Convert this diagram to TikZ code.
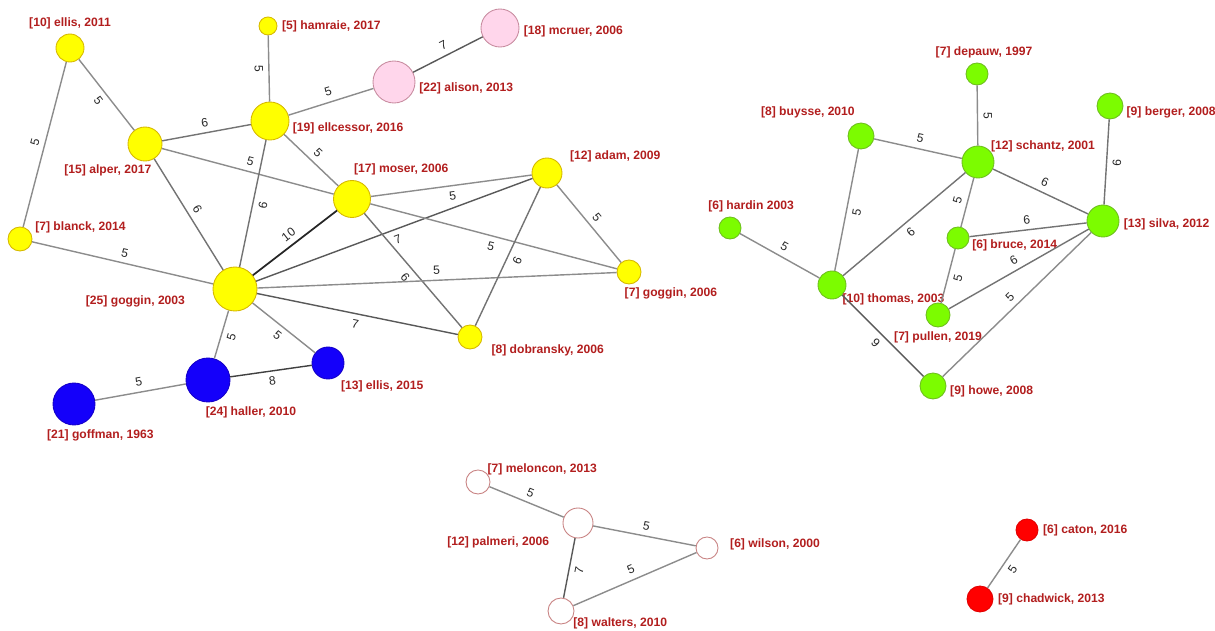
\documentclass[tikz,border=0pt]{standalone}
\usepackage{fontspec}
\setmainfont{Liberation Sans}
\definecolor{paperlabel}{RGB}{178,30,30}
\definecolor{yellowfill}{RGB}{255,255,0}
\definecolor{yellowline}{RGB}{214,184,0}
\definecolor{pinkfill}{RGB}{255,214,235}
\definecolor{pinkline}{RGB}{200,140,160}
\definecolor{bluefill}{RGB}{20,0,250}
\definecolor{blueline}{RGB}{20,0,200}
\definecolor{greenfill}{RGB}{124,252,0}
\definecolor{greenline}{RGB}{110,190,30}
\definecolor{whiteline}{RGB}{200,130,130}
\definecolor{redfill}{RGB}{255,0,0}
\definecolor{redline}{RGB}{225,0,0}
\definecolor{linkgray}{RGB}{140,140,140}

\begin{document}
\begin{tikzpicture}[
			x=0.02cm, y=-0.02cm,
			label distance=1.5pt,
			paper/.style={
				circle,
				inner sep=0pt,
				line width=0.5pt,
				minimum size=#1*0.02cm
			},
			ygroup/.style={paper=#1, draw=yellowline, fill=yellowfill},
			pgroup/.style={paper=#1, draw=pinkline, fill=pinkfill},
			bgroup/.style={paper=#1, draw=blueline, fill=bluefill},
			ggroup/.style={paper=#1, draw=greenline, fill=greenfill},
			wgroup/.style={paper=#1, draw=whiteline, fill=white},
			rgroup/.style={paper=#1, draw=redline, fill=redfill},
			lab/.style={
				text=paperlabel,
				font=\fontsize{6.9}{8}\selectfont\bfseries,
				inner sep=1pt
			},
			el/.style={
				font=\fontsize{6.9}{8}\selectfont,
				text=black!85,
				inner sep=2pt,
				sloped
			},
			every edge/.style={
				draw=linkgray,
				line width=0.8pt
			},
			w6/.style={draw=black!55},
			w7/.style={draw=black!65},
			w8/.style={draw=black!75},
			w9/.style={draw=black!65},
			w10/.style={draw=black!85, line width=1pt}
			]
			\useasboundingbox (0,0) rectangle (1215,631);
			% Yellow cluster
			\node[ygroup=28, label={[lab]90:{[10] ellis, 2011}}] (ellis11) at (70,48) {};
			\node[ygroup=18, label={[lab,anchor=west]0:{[5] hamraie, 2017}}] (hamraie17) at (268,26) {};
			\node[ygroup=38, label={[lab,anchor=west]-20:{[19] ellcessor, 2016}}] (ellcessor16) at (270,121) {};
			\node[ygroup=34, label={[lab,anchor=north east]-65:{[15] alper, 2017}}] (alper17) at (145,144) {};
			\node[ygroup=37, label={[lab,anchor=south west]90:{[17] moser, 2006}}] (moser06) at (352,199) {};
			\node[ygroup=30, label={[lab,anchor=south west,xshift=3pt]30:{[12] adam, 2009}}] (adam09) at (547,173) {};
			\node[ygroup=24, label={[lab,anchor=west,xshift=2pt]50:{[7] blanck, 2014}}] (blanck14) at (20,239) {};
			\node[ygroup=44, label={[lab,anchor=east,xshift=-13pt,yshift=-7pt]180:{[25] goggin, 2003}}] (goggin03) at (235,289) {};
			\node[ygroup=24, label={[lab,anchor=north west]-115:{[7] goggin, 2006}}] (goggin06) at (629,272) {};
			\node[ygroup=24, label={[lab,anchor=north west,xshift=3pt]-20:{[8] dobransky, 2006}}] (dobransky06) at (470,337) {};
			% Pink pair
			\node[pgroup=42, label={[lab,anchor=west]-15:{[22] alison, 2013}}] (alison13) at (394,82) {};
			\node[pgroup=38, label={[lab,anchor=west]-10:{[18] mcruer, 2006}}] (mcruer06) at (500,28) {};
			% Blue cluster
			\node[bgroup=44, label={[lab,anchor=north west]-100:{[24] haller, 2010}}] (haller10) at (208,380) {};
			\node[bgroup=32, label={[lab,anchor=north west]-55:{[13] ellis, 2015}}] (ellis15) at (328,363) {};
			\node[bgroup=42, label={[lab,anchor=north,xshift=15pt]-90:{[21] goffman, 1963}}] (goffman63) at (74,404) {};
			% Green cluster
			\node[ggroup=22, label={[lab,xshift=4pt]90:{[7] depauw, 1997}}] (depauw97) at (977,74) {};
			\node[ggroup=26, label={[lab,anchor=south east]105:{[8] buysse, 2010}}] (buysse10) at (861,136) {};
			\node[ggroup=26, label={[lab,anchor=west]-25:{[9] berger, 2008}}] (berger08) at (1110,106) {};
			\node[ggroup=32, label={[lab,anchor=west]55:{[12] schantz, 2001}}] (schantz01) at (978,162) {};
			\node[ggroup=22, label={[lab,xshift=12pt]90:{[6] hardin 2003}}] (hardin03) at (730,228) {};
			\node[ggroup=32, label={[lab,anchor=west]-10:{[13] silva, 2012}}] (silva12) at (1103,221) {};
			\node[ggroup=22, label={[lab,anchor=west]-30:{[6] bruce, 2014}}] (bruce14) at (958,238) {};
			\node[ggroup=28, label={[lab,anchor=west]-60:{[10] thomas, 2003}}] (thomas03) at (832,285) {};
			\node[ggroup=24, label={[lab]-90:{[7] pullen, 2019}}] (pullen19) at (938,315) {};
			\node[ggroup=26, label={[lab,anchor=west]-20:{[9] howe, 2008}}] (howe08) at (933,386) {};
			% White cluster
			\node[wgroup=24, label={[lab,anchor=west]60:{[7] meloncon, 2013}}] (meloncon13) at (478,482) {};
			\node[wgroup=30, label={[lab,anchor=east,xshift=-8pt,yshift=-4pt]225:{[12] palmeri, 2006}}] (palmeri06) at (578,523) {};
			\node[wgroup=22, label={[lab,anchor=west,xshift=4pt,yshift=2pt]0:{[6] wilson, 2000}}] (wilson00) at (707,548) {};
			\node[wgroup=26, label={[lab,anchor=west]-50:{[8] walters, 2010}}] (walters10) at (561,611) {};
			% Red pair
			\node[rgroup=22, label={[lab,anchor=west]0:{[6] caton, 2016}}] (caton16) at (1027,530) {};
			\node[rgroup=26, label={[lab,anchor=west]0:{[9] chadwick, 2013}}] (chadwick13) at (980,599) {};
			% Links
			\path
			(ellis11) edge node[el,below=1pt] {5} (alper17)
			(ellis11) edge node[el,above=1pt] {5} (blanck14)
			(hamraie17) edge node[el,below=1pt] {5} (ellcessor16)
			(alper17) edge[w6] node[el,above=1pt] {6} (ellcessor16)
			(ellcessor16) edge node[el,above=1pt] {5} (alison13)
			(alison13) edge[w7] node[el,above=1pt] {7} (mcruer06)
			(alper17) edge node[el,above=1pt] {5} (moser06)
			(ellcessor16) edge node[el,above=1pt] {5} (moser06)
			(ellcessor16) edge[w6] node[el,below=1pt] {6} (goggin03)
			(alper17) edge[w6] node[el,above=1pt] {6} (goggin03)
			(blanck14) edge node[el,above=1pt] {5} (goggin03)
			(goggin03) edge[w10] node[el,above=1pt] {10} (moser06)
			(goggin03) edge[w7] node[el,below=1pt] {7} (adam09)
			(moser06) edge[w6] node[el,below=1pt] {6} (dobransky06)
			(goggin03) edge node[el,above=1pt] {5} (goggin06)
			(moser06) edge node[el,below=1pt] {5} (adam09)
			(moser06) edge node[el,below=1pt] {5} (goggin06)
			(adam09) edge[w6] node[el,below=1pt] {6} (dobransky06)
			(adam09) edge node[el,above=1pt] {5} (goggin06)
			(goggin03) edge[w7] node[el,below=1pt] {7} (dobransky06)
			(goggin03) edge node[el,below=1pt] {5} (haller10)
			(goggin03) edge node[el,below=1pt] {5} (ellis15)
			(haller10) edge[w8] node[el,below=1pt] {8} (ellis15)
			(goffman63) edge node[el,above=1pt] {5} (haller10);
			\path
			(depauw97) edge node[el,above=1pt] {5} (schantz01)
			(buysse10) edge node[el,above=1pt] {5} (schantz01)
			(berger08) edge[w6] node[el,below=1pt] {6} (silva12)
			(schantz01) edge[w6] node[el,above=1pt] {6} (silva12)
			(schantz01) edge node[el,above=1pt] {5} (bruce14)
			(schantz01) edge[w6] node[el,below=1pt] {6} (thomas03)
			(buysse10) edge node[el,below=1pt] {5} (thomas03)
			(hardin03) edge node[el,above=1pt] {5} (thomas03)
			(bruce14) edge[w6] node[el,above=1pt] {6} (silva12)
			(pullen19) edge[w6] node[el,above=1pt] {6} (silva12)
			(bruce14) edge node[el,below=1pt] {5} (pullen19)
			(howe08) edge node[el,above=1pt] {5} (silva12)
			(thomas03) edge[w9] node[el,below=1pt] {9} (howe08);
			\path
			(meloncon13) edge node[el,above=1pt] {5} (palmeri06)
			(palmeri06) edge node[el,above=1pt] {5} (wilson00)
			(palmeri06) edge[w7] node[el,below=1pt] {7} (walters10)
			(walters10) edge node[el,above=1pt] {5} (wilson00)
			(chadwick13) edge node[el,below=1pt] {5} (caton16);
		\end{tikzpicture}
\end{document}
